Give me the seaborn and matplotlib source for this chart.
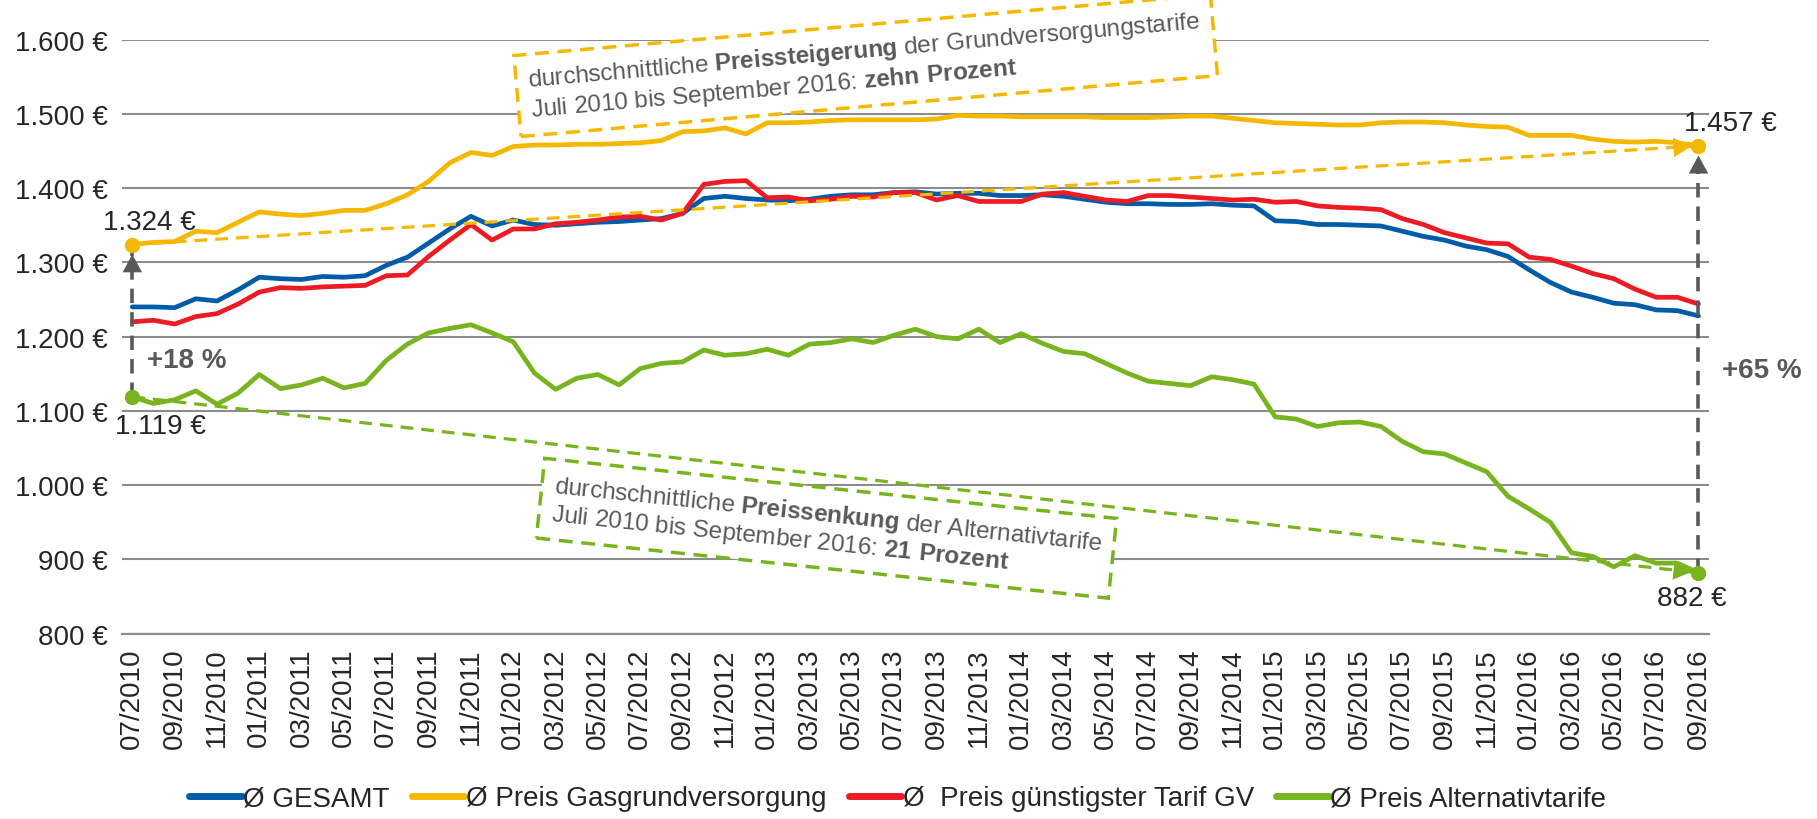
import numpy as np
import pandas as pd
import matplotlib
matplotlib.use("Agg")
import matplotlib.pyplot as plt
from matplotlib.lines import Line2D
import seaborn as sns

# monthly values 07/2010 .. 09/2016
months = [f"{m:02d}/{y}" for y in range(2010, 2017) for m in range(1, 13)]
months = months[months.index("07/2010"):months.index("09/2016") + 1]

gesamt = [1240, 1240, 1239, 1251, 1248, 1263, 1280, 1278, 1277, 1281, 1280, 1282,
          1296, 1307, 1326, 1345, 1362, 1349, 1357, 1351, 1350, 1352, 1354, 1355,
          1357, 1359, 1366, 1386, 1389, 1386, 1384, 1383, 1385, 1389, 1391, 1391,
          1394, 1395, 1392, 1393, 1393, 1390, 1390, 1391, 1389, 1385, 1381, 1379,
          1379, 1378, 1378, 1379, 1377, 1376, 1356, 1355, 1351, 1351, 1350, 1349,
          1342, 1335, 1330, 1322, 1317, 1308, 1290, 1273, 1260, 1253, 1245, 1243,
          1236, 1235, 1228]
grund = [1324, 1327, 1328, 1342, 1340, 1354, 1368, 1365, 1363, 1366, 1370, 1370,
         1379, 1391, 1409, 1434, 1448, 1444, 1456, 1458, 1458, 1459, 1459, 1460,
         1461, 1464, 1476, 1477, 1481, 1473, 1488, 1488, 1489, 1491, 1492, 1492,
         1492, 1492, 1493, 1498, 1497, 1497, 1496, 1496, 1496, 1496, 1495, 1495,
         1495, 1496, 1497, 1497, 1494, 1491, 1488, 1487, 1486, 1485, 1485, 1488,
         1489, 1489, 1488, 1485, 1483, 1482, 1471, 1471, 1471, 1466, 1463, 1462,
         1463, 1461, 1457]
guenstig = [1220, 1222, 1217, 1227, 1231, 1244, 1260, 1266, 1265, 1267, 1268, 1269,
            1282, 1283, 1308, 1330, 1351, 1330, 1345, 1345, 1352, 1354, 1357, 1361,
            1362, 1357, 1366, 1405, 1409, 1410, 1387, 1388, 1383, 1385, 1389, 1388,
            1394, 1394, 1384, 1390, 1382, 1382, 1382, 1392, 1394, 1389, 1384, 1382,
            1390, 1390, 1388, 1386, 1384, 1385, 1381, 1382, 1376, 1374, 1373, 1371,
            1359, 1351, 1340, 1333, 1326, 1325, 1307, 1304, 1295, 1285, 1278, 1264,
            1253, 1253, 1244]
alternativ = [1119, 1110, 1115, 1127, 1109, 1124, 1149, 1130, 1135, 1144, 1131, 1137,
              1168, 1190, 1205, 1211, 1216, 1205, 1193, 1151, 1129, 1144, 1149, 1135,
              1157, 1164, 1166, 1182, 1175, 1177, 1183, 1175, 1190, 1192, 1197, 1192,
              1202, 1210, 1200, 1197, 1210, 1192, 1204, 1191, 1180, 1177, 1164, 1151,
              1140, 1137, 1134, 1146, 1142, 1136, 1092, 1089, 1079, 1084, 1085, 1079,
              1059, 1045, 1042, 1030, 1018, 985, 968, 950, 909, 904, 890, 905,
              895, 895, 882]

series_names = ["Ø GESAMT", "Ø Preis Gasgrundversorgung",
                "Ø  Preis günstigster Tarif GV", "Ø Preis Alternativtarife"]
colors = ["#005CA9", "#F5B800", "#ED1C24", "#78B41E"]
grey = "#595959"
gridc = "#8C8C8C"
dash = (0, (4, 2.5))

sns.set_style("white")
plt.rcParams["font.family"] = ["Liberation Sans", "DejaVu Sans"]
plt.rcParams["mathtext.fontset"] = "custom"
plt.rcParams["mathtext.rm"] = "Liberation Sans"
plt.rcParams["mathtext.bf"] = "Liberation Sans:bold"

n = len(months)
df = pd.DataFrame({
    "x": np.tile(np.arange(n), 4),
    "preis": gesamt + grund + guenstig + alternativ,
    "serie": np.repeat(series_names, n),
})

fig = plt.figure(figsize=(18.17, 8.2), dpi=100)
ax = fig.add_axes([0.067, 0.226, 0.8736, 0.7245])

sns.lineplot(data=df, x="x", y="preis", hue="serie", hue_order=series_names,
             palette=colors, lw=3.4, ax=ax, legend=False, sort=False,
             errorbar=None, zorder=3)

ax.set_xlim(-0.5, n - 0.5)
ax.set_ylim(800, 1600)
yt = np.arange(800, 1601, 100)
ax.set_yticks(yt)
ax.set_yticklabels([f"{v:,} €".replace(",", ".") for v in yt], fontsize=20)
ax.set_xticks(np.arange(0, n, 2))
ax.set_xticklabels(months[::2], rotation=90, fontsize=20)
ax.set_xticks(np.arange(-0.5, n, 1), minor=True)
ax.tick_params(axis="y", length=0, pad=10)
ax.tick_params(axis="x", which="major", length=0, pad=10)
ax.tick_params(axis="x", which="minor", length=7, color=gridc, width=1.2)
ax.set_xlabel("")
ax.set_ylabel("")
ax.yaxis.grid(True, color=gridc, lw=1.5)
ax.set_axisbelow(True)
for s in ["top", "right", "left"]:
    ax.spines[s].set_visible(False)
ax.spines["bottom"].set_color(gridc)
ax.spines["bottom"].set_linewidth(1.6)


def dashed_arrow(p0, p1, color, shrink, lw=2.3):
    # dashed shaft plus a solid head
    ax.plot([p0[0], p1[0]], [p0[1], p1[1]], ls=dash, color=color, lw=lw, zorder=4)
    ax.annotate("", xy=p1, xytext=p0,
                arrowprops=dict(arrowstyle="-|>,head_length=0.65,head_width=0.35",
                                color=color, lw=0, mutation_scale=20,
                                shrinkA=0, shrinkB=shrink),
                zorder=4)


x0, x1 = 0, n - 1

for ser, c in [(grund, colors[1]), (alternativ, colors[3])]:
    dashed_arrow((x0, ser[0]), (x1, ser[-1]), c, 5)

for xx in [x0, x1]:
    dashed_arrow((xx, alternativ[xx]), (xx, grund[xx]), grey, 7, lw=2.6)

for ser, c in [(grund, colors[1]), (alternativ, colors[3])]:
    ax.plot([x0, x1], [ser[0], ser[-1]], "o", color=c, ms=10, zorder=5)

fmt = lambda v: f"{v:,} €".replace(",", ".")
ax.text(0.8, 1355, fmt(grund[0]), ha="center", va="center", fontsize=20)
ax.text(1.35, 1080, fmt(alternativ[0]), ha="center", va="center", fontsize=20)
ax.text(75.5, 1488, fmt(grund[-1]), ha="center", va="center", fontsize=20)
ax.text(73.7, 848, fmt(alternativ[-1]), ha="center", va="center", fontsize=20)

pct_left = round((grund[0] - alternativ[0]) / alternativ[0] * 100)
pct_right = round((grund[-1] - alternativ[-1]) / alternativ[-1] * 100)
ax.text(0.7, 1168, f"+{pct_left} %", ha="left", va="center", fontsize=20,
        fontweight="bold", color=grey)
ax.text(75.1, 1155, f"+{pct_right} %", ha="left", va="center", fontsize=20,
        fontweight="bold", color=grey)

box1 = ("durchschnittliche $\\mathbf{Preissteigerung}$ der Grundversorgungstarife\n"
        "Juli 2010 bis September 2016: $\\mathbf{zehn\\ Prozent}$")
box2 = ("durchschnittliche $\\mathbf{Preissenkung}$ der Alternativtarife\n"
        "Juli 2010 bis September 2016: $\\mathbf{21\\ Prozent}$")
ax.text(34.65, 1565, box1, rotation=5, rotation_mode="anchor", ha="center",
        va="center", multialignment="left", fontsize=17.5, color=grey, zorder=6,
        linespacing=1.15,
        bbox=dict(boxstyle="square,pad=0.5", fc="white", ec=colors[1], lw=2.5,
                  ls=dash))
ax.text(32.8, 942, box2, rotation=-6, rotation_mode="anchor", ha="center",
        va="center", multialignment="left", fontsize=17.5, color=grey, zorder=6,
        linespacing=1.15,
        bbox=dict(boxstyle="square,pad=0.5", fc="white", ec=colors[3], lw=2.5,
                  ls=dash))

handles = [Line2D([], [], color=c, lw=5, solid_capstyle="round") for c in colors]
fig.legend(handles, series_names, loc="center", bbox_to_anchor=(0.494, 0.025),
           ncol=4, frameon=False, fontsize=20, handlelength=1.9,
           handletextpad=0.05, columnspacing=0.8)

fig.savefig("out.png", dpi=100)
